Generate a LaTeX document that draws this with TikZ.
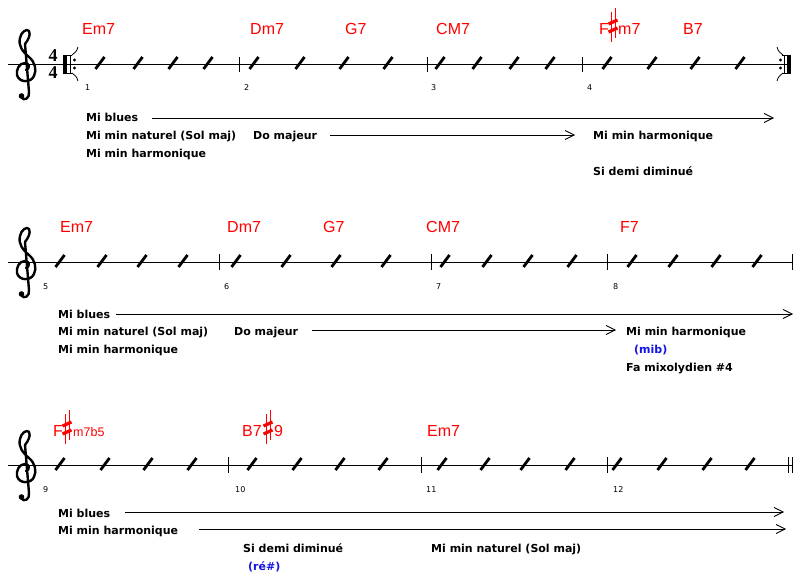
\documentclass[tikz,border=0pt]{standalone}
\usepackage{fontspec}
\usetikzlibrary{arrows.meta}
\newfontfamily\dvs{DejaVu Sans}
\newfontfamily\libsans{Liberation Sans}
\newfontfamily\libser{Liberation Serif}
\newcommand\lblfont{\dvs\bfseries\fontsize{11}{13}\selectfont}
\newcommand\chordfont{\libsans\fontsize{16}{18}\selectfont}
\newcommand\smchordfont{\libsans\fontsize{12.5}{14}\selectfont}
\newcommand\numfont{\dvs\fontsize{8}{9}\selectfont}
\newcommand\tsfont{\libser\bfseries\fontsize{18}{20}\selectfont}
\tikzset{
  lbl/.style={font=\lblfont, anchor=base west, inner sep=0pt},
  bluelbl/.style={lbl, text={rgb,255:red,20;green,20;blue,230}},
  chord/.style={font=\chordfont, text=red, anchor=base west, inner sep=0pt},
  smchord/.style={font=\smchordfont, text=red, anchor=base west, inner sep=0pt},
  mnum/.style={font=\numfont, anchor=base west, inner sep=0pt},
  slashmark/.style={line width=2.8pt},
  barline/.style={line width=0.9pt},
  staffline/.style={line width=0.9pt},
  arr/.style={-{Straight Barb[length=9pt,width=9pt,line width=0.8pt]}, line width=0.9pt},
  sharpsign/.pic={
    \draw[red, line width=1pt] (-2,-13) -- (-2,17) (2,-17) -- (2,13);
    \draw[red, line width=3.2pt] (-4.5,-1) -- (4.5,-5) (-4.5,7) -- (4.5,3);
  },
  trebleclef/.pic={
    \draw[line width=2.4pt, line cap=round, line join=round]
      (1,4) .. controls (5,3) and (5,-3) .. (0,-3)
      .. controls (-6,-3) and (-9,4) .. (-8,9)
      .. controls (-6,17) and (6,17) .. (9,10)
      .. controls (12,4) and (10,-4) .. (4,-9)
      .. controls (-2,-14) and (-7,-20) .. (-5,-28)
      .. controls (-4,-34) and (2,-38) .. (4,-35)
      .. controls (6,-31) and (3,-26) .. (0,-22)
      -- (4,26)
      .. controls (5,32) and (-1,36) .. (-4,31);
    \fill (-3.5,30) circle (2.8);
  },
}
\begin{document}
\begin{tikzpicture}[x=1pt,y=-1pt]
\useasboundingbox (0,0) rectangle (800,580);
\fill[white] (0,0) rectangle (800,580);

% ================= ROW 1 =================
\coordinate (s1a) at (8,64); \coordinate (s1b) at (790,64);
\draw[staffline] (s1a) -- (s1b);
\pic at (25,66) {trebleclef};
\node[font=\tsfont, inner sep=0pt] (ts1) at (53,56) {4};
\node[font=\tsfont, inner sep=0pt] (ts2) at (53,72.5) {4};
% start repeat
\fill (63,55) rectangle (67,73);
\draw[line width=0.8pt] (70,55) -- (70,73) (63,55) -- (72,55) (63,73) -- (72,73);
\fill (74.5,60) circle (1.7) (74.5,68) circle (1.7);
\draw[line width=0.8pt] (72,55) .. controls (75,53) and (77,51) .. (78,47);
\draw[line width=0.8pt] (72,73) .. controls (75,75) and (77,77) .. (78,81);
% end repeat
\fill (787,55) rectangle (791,73);
\draw[line width=0.8pt] (784,55) -- (784,73) (782,55) -- (791,55) (782,73) -- (791,73);
\fill (780.5,60) circle (1.7) (780.5,68) circle (1.7);
\draw[line width=0.8pt] (783,55) .. controls (780,53) and (778,51) .. (777,47);
\draw[line width=0.8pt] (783,73) .. controls (780,75) and (778,77) .. (777,81);
% bars
\foreach \bx in {239,427,582} \draw[barline] (\bx,57) -- (\bx,72);
\foreach \sx in {100,138,173,208,254,300,344,388,440,477,514,550,607,652,695,740}
  \draw[slashmark] (\sx-4.5,69) -- (\sx+4.5,57);
% measure numbers
\node[mnum] (n1) at (85,91) {1};
\node[mnum] (n2) at (244,91) {2};
\node[mnum] (n3) at (431,91) {3};
\node[mnum] (n4) at (587,91) {4};
% chords
\node[chord] (c1) at (82,35) {Em7};
\node[chord] (c2) at (250,35) {Dm7};
\node[chord] (c3) at (345,35) {G7};
\node[chord] (c4) at (436,35) {CM7};
\node[chord] (c5a) at (599,35) {F};
\pic at (613,25) {sharpsign};
\node[chord] (c5b) at (618,35) {m7};
\node[chord] (c6) at (683,35) {B7};
% labels
\node[lbl] (l1a) at (86,122) {Mi blues};
\node[lbl] (l1b) at (86,140) {Mi min naturel (Sol maj)};
\node[lbl] (l1c) at (86,158) {Mi min harmonique};
\node[lbl] (l1d) at (253,140) {Do majeur};
\node[lbl] (l1e) at (593,140) {Mi min harmonique};
\node[lbl] (l1f) at (593,176) {Si demi diminué};
\coordinate (a1s) at (152,118); \coordinate (a1e) at (774,118);
\draw[arr] (a1s) -- (a1e);
\coordinate (a2s) at (330,135); \coordinate (a2e) at (575,135);
\draw[arr] (a2s) -- (a2e);

% ================= ROW 2 =================
\coordinate (s2a) at (8,262); \coordinate (s2b) at (792,262);
\draw[staffline] (s2a) -- (s2b);
\pic at (25,264) {trebleclef};
\foreach \bx in {219,431,607,792} \draw[barline] (\bx,254) -- (\bx,270);
\foreach \sx in {60,102,142,183,236,286,336,386,445,487,528,572,632,673,716,757}
  \draw[slashmark] (\sx-4.5,267) -- (\sx+4.5,255);
\node[mnum] (n5) at (43,289) {5};
\node[mnum] (n6) at (224,289) {6};
\node[mnum] (n7) at (436,289) {7};
\node[mnum] (n8) at (613,289) {8};
\node[chord] (c7) at (60,233) {Em7};
\node[chord] (c8) at (227,233) {Dm7};
\node[chord] (c9) at (323,233) {G7};
\node[chord] (c10) at (426,233) {CM7};
\node[chord] (c11) at (620,233) {F7};
\node[lbl] (l2a) at (58,318) {Mi blues};
\node[lbl] (l2b) at (58,335) {Mi min naturel (Sol maj)};
\node[lbl] (l2c) at (58,353) {Mi min harmonique};
\node[lbl] (l2d) at (234,335) {Do majeur};
\node[lbl] (l2e) at (626,335) {Mi min harmonique};
\node[bluelbl] (l2f) at (634,353) {(mib)};
\node[lbl] (l2g) at (626,371) {Fa mixolydien \#4};
\coordinate (a3s) at (116,314); \coordinate (a3e) at (793,314);
\draw[arr] (a3s) -- (a3e);
\coordinate (a4s) at (312,330); \coordinate (a4e) at (616,330);
\draw[arr] (a4s) -- (a4e);

% ================= ROW 3 =================
\coordinate (s3a) at (8,465); \coordinate (s3b) at (792,465);
\draw[staffline] (s3a) -- (s3b);
\pic at (25,467) {trebleclef};
\foreach \bx in {228,421,607,788,792} \draw[barline] (\bx,457) -- (\bx,473);
\foreach \sx in {60,105,148,192,252,297,340,383,442,485,525,570,617,662,707,750}
  \draw[slashmark] (\sx-4.5,470) -- (\sx+4.5,458);
\node[mnum] (n9) at (43,492) {9};
\node[mnum] (n10) at (235,492) {10};
\node[mnum] (n11) at (426,492) {11};
\node[mnum] (n12) at (613,492) {12};
\node[chord] (c12a) at (53,436) {F};
\pic at (67,427) {sharpsign};
\node[smchord] (c12b) at (73,436) {m7b5};
\node[chord] (c13a) at (242,436) {B7};
\pic at (268,427) {sharpsign};
\node[chord] (c13b) at (274,436) {9};
\node[chord] (c14) at (427,436) {Em7};
\node[lbl] (l3a) at (58,517) {Mi blues};
\node[lbl] (l3b) at (58,534) {Mi min harmonique};
\node[lbl] (l3c) at (243,552) {Si demi diminué};
\node[bluelbl] (l3d) at (248,570) {(ré\#)};
\node[lbl] (l3e) at (431,552) {Mi min naturel (Sol maj)};
\coordinate (a5s) at (125,512); \coordinate (a5e) at (784,512);
\draw[arr] (a5s) -- (a5e);
\coordinate (a6s) at (199,529); \coordinate (a6e) at (786,529);
\draw[arr] (a6s) -- (a6e);
\end{tikzpicture}
\end{document}
